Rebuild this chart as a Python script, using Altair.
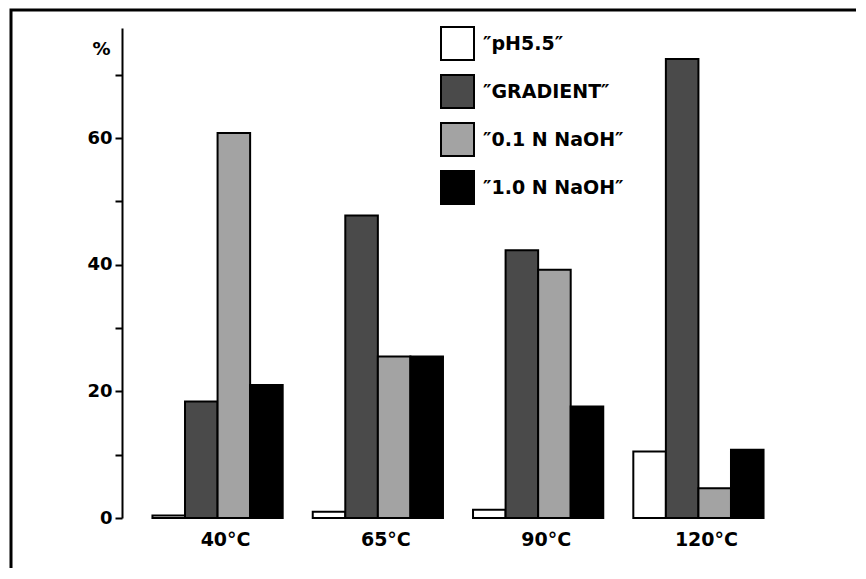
import altair as alt
import pandas as pd

# ---- data ----
temps = ["40°C", "65°C", "90°C", "120°C"]
series = ["″pH5.5″", "″GRADIENT″", "″0.1 N NaOH″", "″1.0 N NaOH″"]
ph55 = [0.4, 1.0, 1.3, 10.5]
gradient = [18.4, 47.8, 42.3, 72.5]
naoh01 = [60.8, 25.5, 39.2, 4.7]
naoh10 = [21.0, 25.5, 17.6, 10.8]
y_ticks = [0, 10, 20, 30, 40, 50, 60, 70]
y_max = 77.4

fills = ["#ffffff", "#4a4a4a", "#a3a3a3", "#000000"]
FONT = "DejaVu Sans"

rows = []
for s, vals in zip(series, [ph55, gradient, naoh01, naoh10]):
    for t, v in zip(temps, vals):
        rows.append({"temp": t, "series": s, "value": v})
df = pd.DataFrame(rows)

bars = alt.Chart(df).mark_bar(stroke="black", strokeWidth=2).encode(
    x=alt.X(
        "temp:N",
        sort=temps,
        scale=alt.Scale(paddingInner=0.1875, paddingOuter=0.19),
        axis=alt.Axis(
            title=None, labelAngle=0, domain=False, ticks=False,
            labelFont=FONT, labelFontSize=19, labelFontWeight="bold",
            labelColor="black", labelPadding=12, labelOffset=8,
        ),
    ),
    xOffset=alt.XOffset("series:N", sort=series,
                        scale=alt.Scale(paddingInner=0, paddingOuter=0)),
    y=alt.Y(
        "value:Q",
        scale=alt.Scale(domain=[0, y_max], nice=False, zero=True),
        axis=alt.Axis(
            values=y_ticks,
            labelExpr="datum.value % 20 == 0 ? datum.label : ''",
            title="%", titleAngle=0, titleX=-21, titleY=21,
            titleAlign="center", titleBaseline="middle",
            titleFont=FONT, titleFontSize=18, titleFontWeight="bold",
            titleColor="black",
            labelFont=FONT, labelFontSize=18, labelFontWeight="bold",
            labelColor="black", labelPadding=3,
            domainColor="black", domainWidth=2,
            tickColor="black", tickWidth=2, tickSize=7,
            grid=False,
        ),
    ),
    fill=alt.Fill(
        "series:N", sort=series,
        scale=alt.Scale(domain=series, range=fills),
        legend=alt.Legend(
            title=None, orient="none", legendX=318, legendY=-2,
            symbolType="square", symbolSize=1089,
            symbolStrokeColor="black", symbolStrokeWidth=2,
            symbolOpacity=1,
            labelFont=FONT, labelFontSize=19, labelFontWeight="bold",
            labelColor="black", labelOffset=8, rowPadding=7, padding=0,
        ),
    ),
)

# figure frame (only its left and top sides fall inside the page)
one = pd.DataFrame({"k": [0]})
frame = alt.Chart(one).mark_rect(
    fillOpacity=0, stroke="black", strokeWidth=3
).encode(
    x=alt.value(-111), x2=alt.value(800), y=alt.value(-18), y2=alt.value(620)
)

chart = alt.layer(bars, frame).properties(
    width=672,
    height=490,
    background="white",
    autosize=alt.AutoSizeParams(type="none"),
    padding={"left": 114, "top": 20, "right": 62, "bottom": 50},
).configure_view(stroke=None)

chart.save("out.html", embed_options={"renderer": "svg", "actions": False})
